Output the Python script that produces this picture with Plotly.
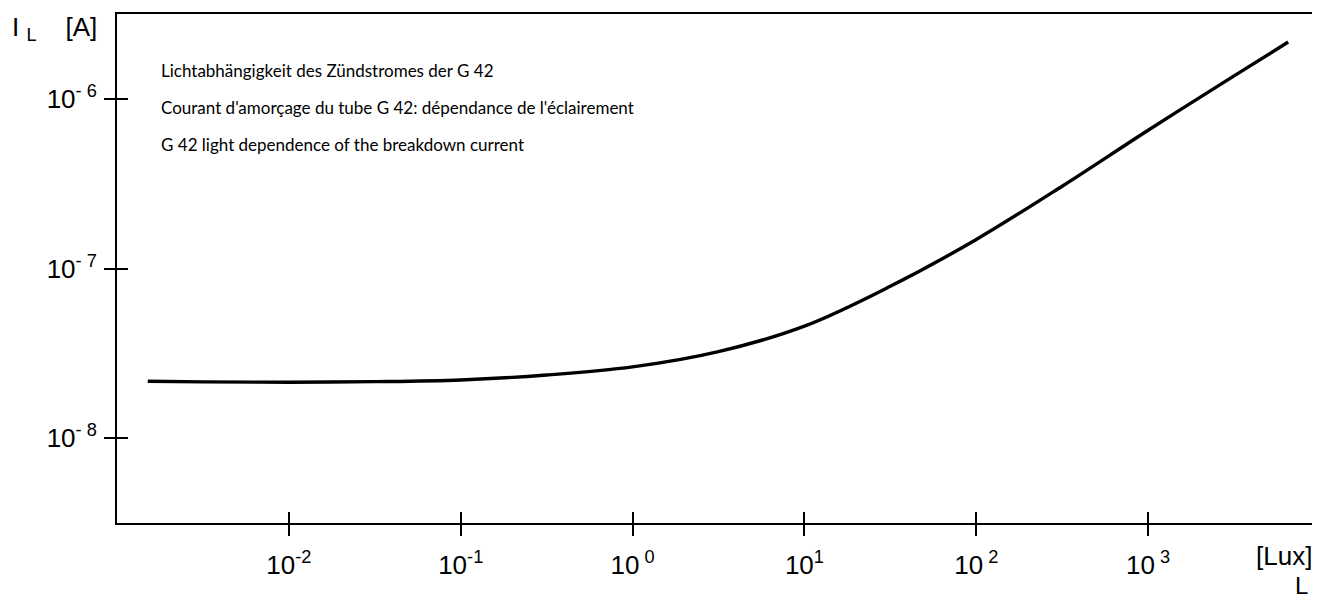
import plotly.graph_objects as go

# Illumination (lux) and ignition current (A)
lux = [0.00151, 0.00316, 0.01, 0.0316, 0.1, 0.316, 1.0, 3.16, 10.0, 31.6, 100.0, 316.0, 1000.0, 3162.0, 6530.0]
current = [2.163e-8, 2.148e-8, 2.138e-8, 2.153e-8, 2.203e-8, 2.355e-8, 2.630e-8, 3.236e-8,
           4.571e-8, 7.852e-8, 1.483e-7, 3.055e-7, 6.531e-7, 1.365e-6, 2.163e-6]

x_tickvals = [1e-2, 1e-1, 1e0, 1e1, 1e2, 1e3]
x_ticktext = ["10<sup>-2</sup>", "10<sup>-1</sup>", "10<sup> 0</sup>", "10<sup>1</sup>", "10<sup> 2</sup>", "10<sup> 3</sup>"]
y_tickvals = [1e-8, 1e-7, 1e-6]
y_ticktext = ["10<sup>- 8</sup>", "10<sup>- 7</sup>", "10<sup>- 6</sup>"]

title_lines = [
    "Lichtabhängigkeit des Zündstromes der G 42",
    "Courant d'amorçage du tube G 42: dépendance de l'éclairement",
    "G 42 light dependence of the breakdown current",
]

tick_font = dict(family="Liberation Sans, Arial, sans-serif", size=26, color="black")
label_font = dict(family="Liberation Sans, Arial, sans-serif", size=26, color="black")
text_font = dict(family="Lato, Noto Sans, sans-serif", size=17, color="black")

# page body has an 8px margin: place plot area at screen x 117..1320, y 14..523
W, H = 1312, 594
L_, T_ = 109, 6
B_ = H - 515

fig = go.Figure()
fig.add_trace(go.Scatter(x=lux, y=current, mode="lines",
                         line=dict(color="black", width=3.4, shape="spline", smoothing=1.0),
                         hoverinfo="skip", showlegend=False))
fig.add_trace(go.Scatter(x=lux, y=current, mode="lines", line=dict(color="rgba(0,0,0,0)", width=0),
                         xaxis="x2", yaxis="y2", hoverinfo="skip", showlegend=False))

XR = [-3, 4]
YR = [-8.5, -5.5]

fig.update_layout(
    width=W, height=H,
    margin=dict(l=L_, r=0, t=T_, b=B_),
    paper_bgcolor="white", plot_bgcolor="white",
    xaxis=dict(type="log", range=XR, tickvals=x_tickvals, ticktext=x_ticktext,
               ticks="outside", ticklen=11, tickwidth=1.6, tickcolor="black",
               showline=True, linecolor="black", linewidth=2, mirror=True,
               showgrid=False, zeroline=False, tickfont=tick_font, ticklabelstandoff=7),
    yaxis=dict(type="log", range=YR, tickvals=y_tickvals, ticktext=y_ticktext,
               ticks="outside", ticklen=11, tickwidth=1.6, tickcolor="black",
               showline=True, linecolor="black", linewidth=2, mirror=False,
               showgrid=False, zeroline=False, tickfont=tick_font, ticklabelstandoff=2),
    xaxis2=dict(type="log", range=XR, tickvals=x_tickvals, showticklabels=False,
                ticks="inside", ticklen=11, tickwidth=1.6, tickcolor="black",
                overlaying="x", anchor="y2", side="bottom", showline=False,
                showgrid=False, zeroline=False),
    yaxis2=dict(type="log", range=YR, tickvals=y_tickvals, showticklabels=False,
                ticks="inside", ticklen=11, tickwidth=1.6, tickcolor="black",
                overlaying="y", anchor="x2", side="left", showline=False,
                showgrid=False, zeroline=False),
)


def px(xp):
    return (xp - 117) / (1320 - 117)


def py(yp):
    return (523 - yp) / (523 - 14)


for i, line in enumerate(title_lines):
    fig.add_annotation(x=px(159), y=py(71 + 36.5 * i), xref="paper", yref="paper", text=line,
                       showarrow=False, xanchor="left", yanchor="middle", font=text_font)

fig.add_annotation(x=px(10), y=py(28), xref="paper", yref="paper",
                   text="I&nbsp;<sub>L</sub>&nbsp;&nbsp;&nbsp;&nbsp;[A]", showarrow=False,
                   xanchor="left", yanchor="middle", font=label_font)
fig.add_annotation(x=px(1314), y=py(556), xref="paper", yref="paper",
                   text="[Lux]", showarrow=False, xanchor="right", yanchor="middle",
                   font=label_font)
fig.add_annotation(x=px(1310), y=py(585), xref="paper", yref="paper",
                   text="L", showarrow=False, xanchor="right", yanchor="middle",
                   font=dict(family="Liberation Sans, Arial, sans-serif", size=24, color="black"))

fig.write_html("out.html")
